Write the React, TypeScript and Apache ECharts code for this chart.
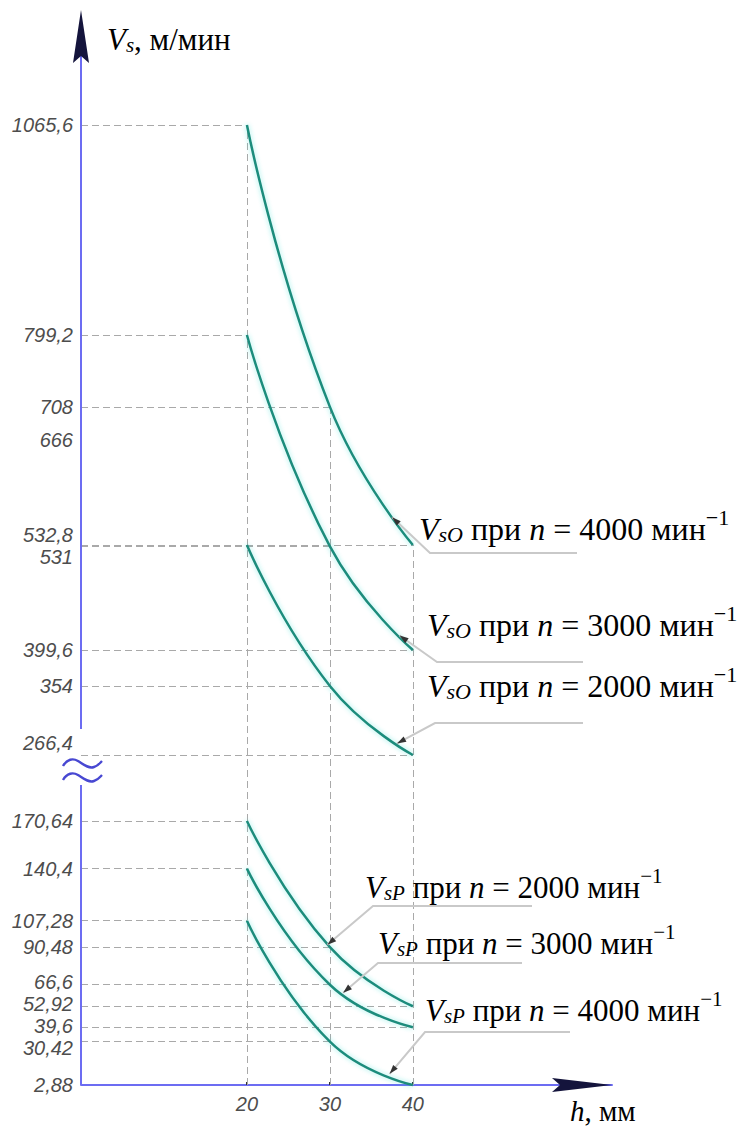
import React, { useEffect, useRef } from 'react';
import * as echarts from 'echarts';

// ---------------- data ----------------
const H_VALUES = [20, 30, 40];
const VSO_N4000 = [1065.6, 708, 532.8];
const VSO_N3000 = [799.2, 531, 399.6];
const VSO_N2000 = [532.8, 354, 266.4];
const VSP_N2000 = [170.64, 90.48, 52.92];
const VSP_N3000 = [140.4, 66.6, 39.6];
const VSP_N4000 = [107.28, 30.42, 2.88];
const Y_TICKS_UPPER = [1065.6, 799.2, 708, 666, 532.8, 531, 399.6, 354, 266.4];
const Y_TICKS_LOWER = [170.64, 140.4, 107.28, 90.48, 66.6, 52.92, 39.6, 30.42, 2.88];
const X_TICKS = [20, 30, 40];
// points on the curves where the leader arrows touch (h, V)
const TARGET_H = [37.5, 38.4, 38.1, 29.7, 31.6, 37.2];
const TARGET_V = [568, 418, 281, 92, 61.5, 10];

const CURVES = [
  { sub: 'sO', n: '4000', values: VSO_N4000, grid: 0 },
  { sub: 'sO', n: '3000', values: VSO_N3000, grid: 0 },
  { sub: 'sO', n: '2000', values: VSO_N2000, grid: 0 },
  { sub: 'sP', n: '2000', values: VSP_N2000, grid: 1 },
  { sub: 'sP', n: '3000', values: VSP_N3000, grid: 1 },
  { sub: 'sP', n: '4000', values: VSP_N4000, grid: 1 },
];

// ---------------- layout / style ----------------
const X_AXIS_MAX = 64;
const LOWER_STRETCH = 1.25;
const LABEL_GAP = 22;
const LEADER_LAYOUT = [
  { textX: 419, baseline: 536, lineY: 553, x1: 430, x2: 577, size: 32 },
  { textX: 427, baseline: 632, lineY: 662, x1: 437, x2: 583, size: 32 },
  { textX: 427, baseline: 693, lineY: 723, x1: 435, x2: 583, size: 32 },
  { textX: 365, baseline: 894, lineY: 906, x1: 373, x2: 532, size: 31 },
  { textX: 378, baseline: 950, lineY: 963, x1: 378, x2: 522, size: 31 },
  { textX: 425, baseline: 1017, lineY: 1032, x1: 425, x2: 570, size: 31 },
];
const AXIS_BLUE = '#6c6cf2';
const ARROW_DARK = '#14143c';
const CURVE_COLOR = '#1f8c7c';
const DASH_COLOR = '#a9a9a9';
const LEADER_COLOR = '#c9c9c9';
const SERIF = '"Liberation Serif", "Times New Roman", serif';
const SANS = '"Liberation Sans", Arial, sans-serif';
const TICK_COLOR = '#4d4d4d';

const APPROX_PATH =
  'M0,10 C4,3 10,2 15,5 C20,8 25,13 31,11 C35,10 37,7 39,5 M0,24 C4,17 10,16 15,19 C20,22 25,27 31,25 C35,24 37,21 39,19';
echarts.graphic.registerShape('approxSign', echarts.graphic.extendPath(APPROX_PATH, {}));

const fmt = (v: number) => String(v).replace('.', ',');

function annRich(size: number, subSize: number) {
  const lh = Math.round(size * 1.22);
  const base = { fontFamily: SERIF, fontWeight: 'normal', color: '#000' };
  return {
    lh,
    rich: {
      v: { ...base, fontStyle: 'italic', fontSize: size, lineHeight: lh, verticalAlign: 'bottom' },
      n: { ...base, fontStyle: 'normal', fontSize: size, lineHeight: lh, verticalAlign: 'bottom' },
      sub: { ...base, fontStyle: 'italic', fontSize: subSize, lineHeight: Math.round(subSize * 0.8), verticalAlign: 'bottom' },
      sup: { ...base, fontStyle: 'normal', fontSize: subSize, lineHeight: Math.round(subSize * 1.2), verticalAlign: 'top' },
    },
  };
}

function serifTitle(text: string, left: number, baseline: number, size: number, subSize: number) {
  const r = annRich(size, subSize);
  const bottom = baseline + Math.round(size * 0.29);
  return {
    text,
    left,
    top: bottom - r.lh,
    padding: 0,
    itemGap: 0,
    z: 20,
    textStyle: { fontFamily: SERIF, fontWeight: 'normal', fontSize: size, color: '#000', rich: r.rich },
  };
}

export default function App() {
  const ref = useRef<HTMLDivElement | null>(null);

  useEffect(() => {
    const el = ref.current;
    if (!el) return;
    const chart = echarts.init(el, null, { renderer: 'svg' });

    const upperMin = Math.min(...Y_TICKS_UPPER);
    const upperMax = Math.max(...Y_TICKS_UPPER);
    const lowerMin = Math.min(...Y_TICKS_LOWER);
    const lowerTop = Math.max(...Y_TICKS_LOWER);
    const lowerMax = lowerMin + (lowerTop - lowerMin) * LOWER_STRETCH;

    const dash = { color: DASH_COLOR, width: 1, type: [7, 4] };
    const tickFont = { fontFamily: SANS, fontStyle: 'italic', fontSize: 20, color: TICK_COLOR };

    const upperTopAt = (i: number) =>
      Math.max(...CURVES.filter((c) => c.grid === 0).map((c) => c.values[i]));

    const series = CURVES.map((c, k) => {
      const hLines = H_VALUES.map((h, i) => ({ v: c.values[i], h }))
        .filter((p) => !(c.grid === 1 && p.v === lowerMin))
        .map((p) => [{ coord: [0, p.v] }, { coord: [p.h, p.v] }]);
      let vLines: any[] = [];
      if (k === 0) {
        vLines = X_TICKS.map((h) => [{ coord: [h, upperMin] }, { coord: [h, upperTopAt(H_VALUES.indexOf(h))] }]);
      }
      if (k === 3) {
        vLines = X_TICKS.map((h) => [{ coord: [h, lowerMin] }, { coord: [h, lowerMax] }]);
      }
      return {
        type: 'line',
        name: `V${c.sub} n=${c.n}`,
        xAxisIndex: c.grid,
        yAxisIndex: c.grid,
        data: H_VALUES.map((h, i) => [h, c.values[i]]),
        smooth: true,
        symbol: 'none',
        showSymbol: false,
        clip: false,
        z: 10,
        lineStyle: { color: CURVE_COLOR, width: 2.5, shadowColor: 'rgba(40,215,205,0.45)', shadowBlur: 5 },
        markLine: {
          silent: true,
          symbol: ['none', 'none'],
          label: { show: false },
          lineStyle: dash,
          animation: false,
          z: 3,
          data: [...hLines, ...vLines],
        },
      };
    });

    const yAxisBase = (g: number, min: number, max: number, ticks: number[]) => ({
      gridIndex: g,
      type: 'value',
      min,
      max,
      axisLine: { show: false },
      axisTick: { show: false },
      splitLine: { show: false },
      axisLabel: { customValues: ticks, margin: 8, ...tickFont, formatter: (v: number) => fmt(v) },
    });

    const titles = [
      serifTitle('{v|V}{sub|s}{n|, м/мин}', 107, 46, 31, 21),
      serifTitle('{v|h}{n|, мм}', 570, 1117, 29, 20),
      ...CURVES.map((c, k) =>
        serifTitle(
          `{v|V}{sub|${c.sub}}{n| при }{v|n}{n| = ${c.n} мин}{sup|−1}`,
          LEADER_LAYOUT[k].textX,
          LEADER_LAYOUT[k].baseline,
          LEADER_LAYOUT[k].size,
          Math.round(LEADER_LAYOUT[k].size * 0.68)
        )
      ),
    ];

    const option: any = {
      animation: false,
      backgroundColor: '#ffffff',
      title: titles,
      grid: [
        { left: 81, right: 126, top: 125, bottom: 373, outerBoundsMode: 'none' },
        { left: 81, right: 126, top: 755, bottom: 43, outerBoundsMode: 'none' },
      ],
      xAxis: [
        { gridIndex: 0, type: 'value', min: 0, max: X_AXIS_MAX, show: false },
        {
          gridIndex: 1,
          type: 'value',
          min: 0,
          max: X_AXIS_MAX,
          axisLine: { show: true, lineStyle: { color: AXIS_BLUE, width: 2 } },
          axisTick: { show: true, customValues: X_TICKS, length: 3, inside: true, lineStyle: { color: '#333', width: 2 } },
          splitLine: { show: false },
          axisLabel: { customValues: X_TICKS, margin: 9, ...tickFont, formatter: (v: number) => fmt(v) },
        },
      ],
      yAxis: [
        yAxisBase(0, upperMin, upperMax, Y_TICKS_UPPER),
        yAxisBase(1, lowerMin, lowerMax, Y_TICKS_LOWER),
      ],
      series,
    };
    chart.setOption(option);

    const px = (g: number, x: number, y: number) =>
      chart.convertToPixel({ xAxisIndex: g, yAxisIndex: g } as any, [x, y]) as unknown as number[];

    // spread tick labels that would collide (labels only, not the ticks)
    const spread = (g: number, ticks: number[], prefShift: (v: number) => number) => {
      const items = ticks.map((v, idx) => {
        const y0 = px(g, 0, v)[1];
        return { idx, v, y0, y: y0 + prefShift(v) };
      });
      const sorted = [...items].sort((a, b) => a.y - b.y);
      for (let it = 0; it < 200; it++) {
        let moved = false;
        for (let i = 0; i < sorted.length - 1; i++) {
          const gap = sorted[i + 1].y - sorted[i].y;
          if (gap < LABEL_GAP - 0.01) {
            const d = (LABEL_GAP - gap) / 2;
            sorted[i].y -= d;
            sorted[i + 1].y += d;
            moved = true;
          }
        }
        if (!moved) break;
      }
      const rich: any = {};
      items.forEach((it) => {
        const off = it.y - it.y0;
        const pad = off < 0 ? [0, 0, Math.round(-2 * off), 0] : [Math.round(2 * off), 0, 0, 0];
        rich[`o${it.idx}`] = { ...tickFont, padding: pad };
      });
      return {
        rich,
        formatter: (v: number) => {
          let idx = ticks.indexOf(v);
          if (idx < 0) {
            let best = Infinity;
            ticks.forEach((t, i) => {
              if (Math.abs(t - v) < best) {
                best = Math.abs(t - v);
                idx = i;
              }
            });
          }
          return `{o${idx}|${fmt(v)}}`;
        },
      };
    };
    const upperLab = spread(0, Y_TICKS_UPPER, (v) => (v === upperMin ? -12 : 0));
    const lowerLab = spread(1, Y_TICKS_LOWER, () => 0);

    const [ax] = px(0, 0, upperMax);
    const upperBottom = px(0, 0, upperMin)[1];
    const lowerBottom = px(1, 0, lowerMin)[1];
    const xEnd = px(1, X_AXIS_MAX, lowerMin)[0];

    const graphics: any[] = [];
    // y axis (broken)
    graphics.push({
      type: 'line', z: 60, silent: true,
      shape: { x1: ax, y1: 56, x2: ax, y2: upperBottom - 26 },
      style: { stroke: AXIS_BLUE, lineWidth: 2 },
    });
    graphics.push({
      type: 'rect', z: 55, silent: true,
      shape: { x: ax - 20, y: upperBottom + 1, width: 44, height: 30 },
      style: { fill: '#ffffff' },
    });
    graphics.push({
      type: 'approxSign', z: 61, silent: true, x: ax - 18, y: upperBottom + 1,
      style: { stroke: '#4848d2', fill: 'none', lineWidth: 2.4 },
    });
    graphics.push({
      type: 'line', z: 60, silent: true,
      shape: { x1: ax, y1: upperBottom + 30, x2: ax, y2: lowerBottom },
      style: { stroke: AXIS_BLUE, lineWidth: 2 },
    });
    // arrows
    graphics.push({
      type: 'polygon', z: 62, silent: true,
      shape: { points: [[ax - 8, 63], [ax, 10], [ax + 8, 63], [ax, 56]] },
      style: { fill: ARROW_DARK },
    });
    graphics.push({
      type: 'polygon', z: 62, silent: true,
      shape: { points: [[xEnd - 60, lowerBottom - 7], [xEnd, lowerBottom], [xEnd - 60, lowerBottom + 7], [xEnd - 52, lowerBottom]] },
      style: { fill: ARROW_DARK },
    });

    // leader lines
    CURVES.forEach((c, k) => {
      const L = LEADER_LAYOUT[k];
      const [tx, ty] = px(c.grid, TARGET_H[k], TARGET_V[k]);
      graphics.push({
        type: 'polyline', z: 58, silent: true,
        shape: { points: [[L.x2, L.lineY], [L.x1, L.lineY], [tx, ty]] },
        style: { stroke: LEADER_COLOR, lineWidth: 2, fill: 'none' },
      });
      const dx = tx - L.x1;
      const dy = ty - L.lineY;
      const len = Math.hypot(dx, dy) || 1;
      const ux = dx / len;
      const uy = dy / len;
      const bx = tx - ux * 9;
      const by = ty - uy * 9;
      graphics.push({
        type: 'polygon', z: 59, silent: true,
        shape: { points: [[tx, ty], [bx - uy * 3, by + ux * 3], [bx + uy * 3, by - ux * 3]] },
        style: { fill: '#333333' },
      });
    });

    chart.setOption({
      yAxis: [
        { axisLabel: { rich: upperLab.rich, formatter: upperLab.formatter } },
        { axisLabel: { rich: lowerLab.rich, formatter: lowerLab.formatter } },
      ],
      graphic: graphics,
    });

    return () => {
      chart.dispose();
    };
  }, []);

  return (
    <div
      ref={ref}
      style={{ position: 'fixed', left: 0, top: 0, width: 738, height: 1128, background: '#ffffff' }}
    />
  );
}
